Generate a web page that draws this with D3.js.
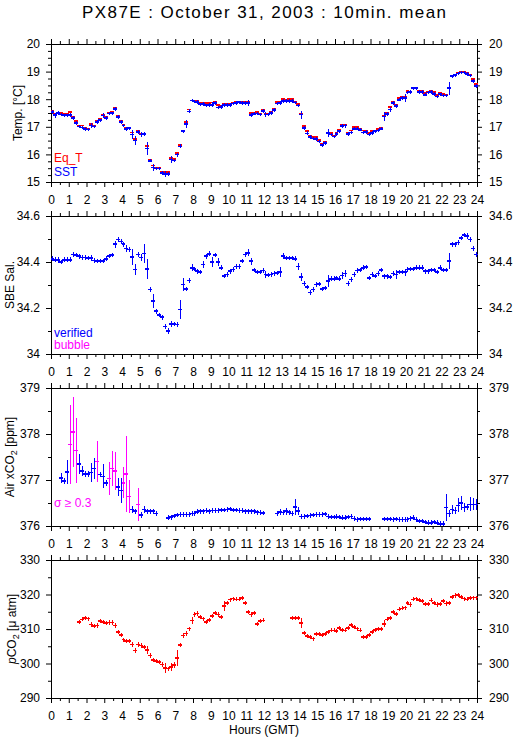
<!DOCTYPE html>
<html>
<head>
<meta charset="utf-8">
<script src="https://cdn.jsdelivr.net/npm/d3@7"></script>
<style>
body { margin: 0; background: #fff; }
svg { display: block; font-family: "Liberation Sans", Arial, sans-serif; }
</style>
</head>
<body>
<svg width="515" height="739"></svg>
<script>
// 10-minute means, slot i covers i/6 .. (i+1)/6 hours GMT (144 slots)
var hourLabels = [0,1,2,3,4,5,6,7,8,9,10,11,12,13,14,15,16,17,18,19,20,21,22,23,24];

var tempTicks = [15, 16, 17, 18, 19, 20];
var salTicks = [34, 34.2, 34.4, 34.6];
var airTicks = [376, 377, 378, 379];
var pco2Ticks = [290, 300, 310, 320, 330];

// Eq_T (red)
var eqT = [
  17.58, 17.48, 17.52, 17.49, 17.48, 17.47, 17.54, 17.38, 17.20, 17.05, 17.05, 16.95,
  16.93, 17.11, 17.05, 17.20, 17.28, 17.44, 17.36, 17.52, 17.54, 17.68, 17.39, 17.22,
  17.08, 16.98, 16.98, 16.80, 16.56, 16.84, 16.76, 16.76, 16.30, 15.81, 15.60, 15.52,
  15.52, 15.36, 15.36, 15.36, 15.87, 15.83, 16.05, 16.35, 16.86, 17.17, 17.62, 17.96,
  17.96, 17.95, 17.86, 17.88, 17.86, 17.86, 17.88, 17.92, 17.78, 17.76, 17.82, 17.82,
  17.82, 17.88, 17.92, 17.92, 17.92, 17.90, 17.92, 17.50, 17.52, 17.54, 17.48, 17.62,
  17.48, 17.48, 17.54, 17.66, 17.89, 17.92, 18.00, 17.98, 18.00, 18.00, 17.92, 17.83,
  17.48, 17.02, 16.84, 16.69, 16.62, 16.62, 16.53, 16.38, 16.45, 16.80, 16.77, 16.69,
  16.78, 16.90, 17.08, 17.08, 16.78, 16.86, 16.99, 16.99, 16.93, 16.86, 16.86, 16.78,
  16.84, 16.87, 16.93, 16.98, 17.40, 17.50, 17.72, 17.92, 17.80, 18.04, 18.08, 18.10,
  18.30, 18.28, 18.43, 18.43, 18.31, 18.30, 18.22, 18.28, 18.30, 18.26, 18.16, 18.22,
  18.19, 18.17, 18.43, 18.85, 18.89, 18.97, 19.01, 19.01, 18.94, 18.89, 18.73, 18.55
];

// SST (blue)
var sst = [
  17.54, 17.42, 17.49, 17.44, 17.42, 17.42, 17.42, 17.32, 17.14, 17.01, 16.98, 16.92,
  16.90, 17.05, 17.01, 17.17, 17.24, 17.41, 17.32, 17.48, 17.49, 17.64, 17.35, 17.17,
  17.05, 16.92, 16.95, 16.72, 16.50, 16.81, 16.72, 16.73, 16.22, 15.77, 15.53, 15.49,
  15.49, 15.32, 15.29, 15.30, 15.81, 15.78, 15.99, 16.29, 16.84, 17.10, 17.56, 17.95,
  17.92, 17.90, 17.82, 17.83, 17.78, 17.80, 17.80, 17.86, 17.70, 17.72, 17.79, 17.79,
  17.79, 17.84, 17.86, 17.89, 17.86, 17.86, 17.86, 17.42, 17.47, 17.48, 17.44, 17.57,
  17.44, 17.44, 17.50, 17.61, 17.85, 17.86, 17.94, 17.94, 17.94, 17.94, 17.88, 17.77,
  17.44, 16.96, 16.76, 16.63, 16.57, 16.56, 16.47, 16.33, 16.41, 16.77, 16.72, 16.65,
  16.74, 16.84, 17.02, 17.04, 16.74, 16.80, 16.93, 16.93, 16.89, 16.80, 16.81, 16.72,
  16.78, 16.84, 16.87, 16.93, 17.37, 17.46, 17.62, 17.86, 17.76, 17.98, 18.04, 18.04,
  18.25, 18.26, 18.40, 18.40, 18.26, 18.26, 18.16, 18.24, 18.26, 18.19, 18.10, 18.18,
  18.14, 18.14, 18.40, 18.83, 18.87, 18.93, 18.97, 18.97, 18.91, 18.86, 18.67, 18.47
];

var sstSd = [
  0.07, 0.09, 0.07, 0.06, 0.06, 0.06, 0.07, 0.07, 0.06, 0.06, 0.06, 0.06,
  0.06, 0.09, 0.07, 0.06, 0.06, 0.09, 0.06, 0.06, 0.06, 0.06, 0.07, 0.07,
  0.06, 0.07, 0.06, 0.17, 0.16, 0.06, 0.10, 0.07, 0.24, 0.06, 0.13, 0.06,
  0.06, 0.07, 0.12, 0.07, 0.12, 0.06, 0.07, 0.07, 0.06, 0.13, 0.07, 0.06,
  0.06, 0.06, 0.06, 0.06, 0.06, 0.07, 0.10, 0.06, 0.06, 0.06, 0.06, 0.06,
  0.06, 0.06, 0.06, 0.06, 0.06, 0.06, 0.12, 0.07, 0.06, 0.06, 0.06, 0.07,
  0.10, 0.06, 0.06, 0.07, 0.06, 0.06, 0.06, 0.06, 0.06, 0.06, 0.06, 0.06,
  0.15, 0.07, 0.07, 0.06, 0.06, 0.06, 0.06, 0.06, 0.07, 0.15, 0.06, 0.07,
  0.06, 0.06, 0.07, 0.07, 0.06, 0.06, 0.06, 0.06, 0.06, 0.06, 0.06, 0.06,
  0.06, 0.06, 0.06, 0.06, 0.15, 0.06, 0.10, 0.06, 0.07, 0.06, 0.06, 0.15,
  0.06, 0.06, 0.06, 0.06, 0.06, 0.06, 0.06, 0.06, 0.06, 0.06, 0.06, 0.06,
  0.06, 0.06, 0.23, 0.06, 0.06, 0.06, 0.06, 0.06, 0.06, 0.06, 0.07, 0.08
];

// SBE salinity (verified)
var sal = [
  34.414, 34.410, 34.410, 34.400, 34.410, 34.410, 34.410, 34.433, 34.430, 34.425, 34.420, 34.420,
  34.418, 34.418, 34.407, 34.404, 34.404, 34.404, 34.414, 34.426, 34.430, 34.477, 34.498, 34.490,
  34.477, 34.458, 34.455, 34.423, 34.367, 34.433, 34.420, 34.437, 34.370, 34.280, 34.230, 34.186,
  34.170, 34.160, 34.120, 34.100, 34.130, 34.130, 34.128, 34.193, 34.302, 34.283, 34.320, 34.375,
  34.370, 34.360, 34.356, 34.390, 34.425, 34.436, 34.400, 34.430, 34.400, 34.375, 34.340, 34.345,
  34.360, 34.367, 34.380, 34.380, 34.404, 34.433, 34.440, 34.404, 34.365, 34.356, 34.356, 34.363,
  34.345, 34.343, 34.345, 34.350, 34.353, 34.356, 34.426, 34.418, 34.418, 34.418, 34.414, 34.380,
  34.335, 34.306, 34.292, 34.268, 34.280, 34.302, 34.305, 34.283, 34.287, 34.317, 34.327, 34.327,
  34.330, 34.327, 34.341, 34.350, 34.306, 34.324, 34.345, 34.363, 34.365, 34.375, 34.378, 34.331,
  34.345, 34.340, 34.350, 34.365, 34.338, 34.338, 34.335, 34.350, 34.345, 34.356, 34.356, 34.356,
  34.367, 34.370, 34.370, 34.375, 34.375, 34.375, 34.360, 34.360, 34.365, 34.365, 34.357, 34.375,
  34.365, 34.365, 34.404, 34.477, 34.477, 34.484, 34.505, 34.517, 34.513, 34.498, 34.458, 34.433
];

var salSd = [
  0.010, 0.010, 0.013, 0.010, 0.010, 0.010, 0.010, 0.010, 0.010, 0.010, 0.010, 0.010,
  0.010, 0.013, 0.010, 0.010, 0.010, 0.010, 0.010, 0.010, 0.010, 0.015, 0.010, 0.010,
  0.010, 0.015, 0.010, 0.035, 0.025, 0.010, 0.015, 0.040, 0.045, 0.010, 0.030, 0.010,
  0.010, 0.010, 0.012, 0.012, 0.012, 0.010, 0.010, 0.040, 0.030, 0.010, 0.010, 0.015,
  0.010, 0.010, 0.010, 0.015, 0.010, 0.010, 0.020, 0.010, 0.018, 0.010, 0.010, 0.010,
  0.010, 0.010, 0.010, 0.010, 0.010, 0.010, 0.015, 0.015, 0.010, 0.010, 0.010, 0.010,
  0.015, 0.010, 0.010, 0.010, 0.010, 0.022, 0.015, 0.010, 0.010, 0.010, 0.010, 0.015,
  0.018, 0.010, 0.010, 0.010, 0.010, 0.010, 0.010, 0.010, 0.010, 0.025, 0.010, 0.010,
  0.010, 0.010, 0.017, 0.015, 0.010, 0.010, 0.010, 0.010, 0.010, 0.010, 0.010, 0.010,
  0.010, 0.010, 0.010, 0.010, 0.010, 0.010, 0.010, 0.010, 0.020, 0.010, 0.010, 0.015,
  0.010, 0.010, 0.010, 0.010, 0.010, 0.010, 0.010, 0.010, 0.010, 0.010, 0.010, 0.010,
  0.010, 0.010, 0.035, 0.010, 0.010, 0.010, 0.010, 0.010, 0.012, 0.012, 0.010, 0.010
];

// Air xCO2 [ppm]
var airCO2 = [
  null, null, null, 377.05, 376.98, 377.18, 377.77, 378.05, 377.64, 377.35, 377.20, 377.13,
  377.13, 377.16, 377.25, 377.40, 377.12, 377.08, 376.94, 377.03, 377.25, 377.20, 376.85, 376.77,
  376.94, 377.13, 376.64, 376.36, 376.32, 376.47, 376.24, 376.36, 376.32, 376.32, 376.32, 376.27,
  null, null, null, 376.18, 376.19, 376.22, 376.24, 376.25, 376.25, 376.25, 376.25, 376.27,
  376.27, 376.31, 376.32, 376.32, 376.34, 376.32, 376.34, 376.34, 376.34, 376.35, 376.35, 376.36,
  376.37, 376.35, 376.35, 376.34, 376.34, 376.32, 376.32, 376.32, 376.32, 376.30, 376.29, 376.28,
  null, null, null, null, 376.27, 376.31, 376.29, 376.32, 376.30, 376.27, 376.41, 376.32,
  376.21, 376.21, 376.22, 376.23, 376.24, 376.25, 376.25, 376.25, 376.26, 376.21, 376.20, 376.20,
  376.21, 376.20, 376.18, 376.18, 376.20, 376.21, 376.16, 376.14, 376.15, 376.15, 376.15, 376.15,
  null, null, null, null, 376.15, 376.15, 376.15, 376.14, 376.15, 376.14, 376.14, 376.14,
  376.14, 376.16, 376.18, 376.14, 376.11, 376.11, 376.09, 376.07, 376.07, 376.09, 376.07, 376.05,
  376.05, 376.40, 376.27, 376.36, 376.34, 376.45, 376.50, 376.40, 376.41, 376.47, 376.47, 376.47
];

var airSd = [
  0, 0, 0, 0.11, 0.07, 0.26, 0.85, 0.76, 0.71, 0.22, 0.11, 0.07,
  0.07, 0.20, 0.22, 0.44, 0.06, 0.26, 0.06, 0.36, 0.38, 0.41, 0.20, 0.27,
  0.34, 0.82, 0.36, 0.08, 0.05, 0.36, 0.06, 0.08, 0.05, 0.05, 0.05, 0.05,
  0, 0, 0, 0.05, 0.05, 0.05, 0.05, 0.05, 0.05, 0.05, 0.05, 0.05,
  0.05, 0.05, 0.05, 0.05, 0.05, 0.05, 0.05, 0.05, 0.05, 0.05, 0.05, 0.05,
  0.05, 0.05, 0.05, 0.05, 0.05, 0.05, 0.05, 0.05, 0.05, 0.05, 0.05, 0.05,
  0, 0, 0, 0, 0.05, 0.06, 0.06, 0.07, 0.05, 0.05, 0.18, 0.09,
  0.05, 0.05, 0.05, 0.05, 0.05, 0.05, 0.05, 0.05, 0.05, 0.05, 0.05, 0.05,
  0.05, 0.05, 0.05, 0.05, 0.05, 0.05, 0.05, 0.05, 0.05, 0.05, 0.05, 0.05,
  0, 0, 0, 0, 0.05, 0.05, 0.05, 0.05, 0.05, 0.05, 0.05, 0.05,
  0.05, 0.05, 0.05, 0.05, 0.05, 0.05, 0.05, 0.05, 0.05, 0.05, 0.05, 0.05,
  0.05, 0.29, 0.08, 0.10, 0.08, 0.15, 0.16, 0.10, 0.07, 0.15, 0.13, 0.12
];

// pCO2 [uatm]
var pco2 = [
  null, null, null, null, null, null, null, null, null, 312.1, 312.8, 313.2,
  313.0, 311.3, 310.8, 311.0, 312.3, 312.1, 311.7, 311.9, 311.9, 311.0, 309.1, 308.2,
  306.9, 306.6, 306.5, 305.5, 303.8, 305.5, 305.2, 304.8, 304.0, 302.3, 301.1, 300.7,
  300.5, 299.7, 298.7, 298.5, 298.9, 299.5, 301.6, 305.3, 308.1, 308.7, 310.1, 312.5,
  314.2, 314.5, 313.4, 313.0, 312.1, 312.6, 313.7, 314.7, 314.2, 313.4, 316.6, 317.6,
  318.5, 318.8, 318.6, 318.6, 318.9, 317.6, 315.0, 314.2, 314.7, 311.5, 312.3, 312.5,
  null, null, null, null, null, null, null, null, null, 313.2, 313.2, 313.2,
  311.8, 308.9, 307.9, 307.6, 307.2, 308.6, 308.6, 308.2, 308.6, 309.2, 309.6, 309.6,
  309.4, 310.3, 309.7, 309.6, 310.3, 311.1, 310.6, 310.1, 309.6, 307.7, 307.6, 308.2,
  309.2, 309.7, 310.0, 310.0, 311.5, 312.8, 313.2, 314.9, 314.4, 315.7, 316.0, 316.2,
  317.6, 317.1, 318.6, 318.8, 318.4, 318.1, 317.3, 317.3, 318.3, 317.6, 317.1, 317.3,
  318.1, 317.4, 317.5, 319.2, 319.7, 319.9, 319.3, 318.8, 318.6, 318.9, 319.1, 319.1
];

var pco2Sd = [
  0, 0, 0, 0, 0, 0, 0, 0, 0, 0.6, 0.6, 0.6,
  0.6, 0.8, 0.6, 0.6, 0.6, 0.6, 0.6, 0.6, 0.6, 0.6, 0.6, 0.6,
  0.6, 0.6, 0.6, 0.6, 0.7, 0.6, 0.6, 0.6, 1.2, 0.6, 0.6, 0.6,
  0.6, 0.6, 1.5, 0.6, 1.2, 0.9, 2.3, 0.6, 0.8, 0.6, 0.6, 1.0,
  0.6, 0.6, 0.6, 0.6, 0.6, 0.6, 0.6, 0.6, 0.6, 0.6, 1.4, 0.6,
  0.6, 0.6, 0.6, 0.6, 0.6, 0.6, 0.6, 0.6, 0.6, 0.6, 0.6, 0.6,
  0, 0, 0, 0, 0, 0, 0, 0, 0, 0.6, 0.6, 0.6,
  1.5, 0.6, 0.6, 0.6, 0.6, 0.6, 0.6, 0.6, 0.6, 0.6, 0.6, 0.6,
  0.6, 0.6, 0.6, 0.6, 0.6, 0.6, 0.6, 0.6, 0.6, 0.6, 0.6, 0.6,
  0.6, 0.6, 0.6, 0.6, 1.0, 0.6, 0.6, 0.6, 0.6, 0.6, 0.6, 0.6,
  0.6, 0.6, 0.6, 0.6, 0.6, 0.6, 0.6, 0.6, 0.6, 0.6, 0.6, 0.6,
  0.6, 0.6, 0.6, 0.6, 0.6, 0.6, 0.6, 0.6, 0.6, 0.6, 0.6, 0.6
];

var RED = "#ff0000", BLUE = "#0000ff", MAGENTA = "#ff00ff";
var FONT = 12;

var svg = d3.select("svg");

var x = d3.scaleLinear().domain([0, 24]).range([51, 477]);
var panelH = 138;
var halfTicks = d3.range(0.5, 24, 1);
var plain = function (d) { return String(d); };

function slotX(i) { return x(i / 6); }

// one panel: frame + ticks on all four sides, labels bottom/left/right
function drawPanel(top, domain, majors, minors) {
    var y = d3.scaleLinear().domain(domain).range([top + panelH, top]);
    var g = svg.append("g");

    function axis(a, tr) {
        var ax = g.append("g").attr("transform", tr).call(a);
        ax.select(".domain").remove();
        ax.attr("font-family", null).attr("font-size", FONT);
        return ax;
    }

    axis(d3.axisBottom(x).tickValues(hourLabels).tickSize(5).tickPadding(8).tickFormat(plain),
        "translate(0," + (top + panelH) + ")");
    axis(d3.axisBottom(x).tickValues(halfTicks).tickSize(3).tickFormat(""),
        "translate(0," + (top + panelH) + ")");
    axis(d3.axisTop(x).tickValues(hourLabels).tickSize(5).tickFormat(""), "translate(0," + top + ")");
    axis(d3.axisTop(x).tickValues(halfTicks).tickSize(3).tickFormat(""), "translate(0," + top + ")");

    axis(d3.axisLeft(y).tickValues(majors).tickSize(5).tickPadding(6).tickFormat(plain), "translate(" + x(0) + ",0)");
    axis(d3.axisLeft(y).tickValues(minors).tickSize(3).tickFormat(""), "translate(" + x(0) + ",0)");
    axis(d3.axisRight(y).tickValues(majors).tickSize(5).tickPadding(7).tickFormat(plain), "translate(" + x(24) + ",0)");
    axis(d3.axisRight(y).tickValues(minors).tickSize(3).tickFormat(""), "translate(" + x(24) + ",0)");

    g.append("rect")
        .attr("x", x(0) + 0.5).attr("y", top + 0.5)
        .attr("width", x(24) - x(0)).attr("height", panelH)
        .attr("fill", "none").attr("stroke", "#000").attr("stroke-width", 1);
    return y;
}

// 10-min mean marks: horizontal bar over the slot, vertical bar = +-sd
function drawMarks(y, vals, sds, color, withBar) {
    var pts = [];
    vals.forEach(function (v, i) {
        if (v !== null) pts.push({ i: i, v: v, s: sds ? sds[i] : 0 });
    });
    var col = function (d) { return typeof color === "function" ? color(d) : color; };
    var g = svg.append("g").attr("fill", "none").attr("shape-rendering", "crispEdges");
    g.selectAll("path.h").data(pts).enter().append("path")
        .attr("class", "h")
        .attr("d", function (d) {
            return "M" + (slotX(d.i) - 0.5) + "," + y(d.v) + "H" + (slotX(d.i + 1) + 0.5);
        })
        .attr("stroke", col)
        .attr("stroke-width", 1.6);
    if (!withBar) return;
    g.selectAll("path.v").data(pts).enter().append("path")
        .attr("class", "v")
        .attr("d", function (d) {
            var xc = Math.round((slotX(d.i) + slotX(d.i + 1)) / 2) + 0.5;
            return "M" + xc + "," + y(d.v - d.s) + "V" + y(d.v + d.s);
        })
        .attr("stroke", col)
        .attr("stroke-width", 1.2);
}

function yTitle(cx, cy, build) {
    var t = svg.append("text")
        .attr("transform", "translate(" + cx + "," + cy + ") rotate(-90)")
        .attr("text-anchor", "middle")
        .attr("font-size", FONT);
    build(t);
}

function legend(px, py, txt, color) {
    svg.append("text").attr("x", px).attr("y", py)
        .attr("font-size", FONT).attr("fill", color).text(txt);
}

// title
svg.append("text")
    .attr("x", 264).attr("y", 17.5)
    .attr("text-anchor", "middle")
    .attr("font-size", 17)
    .attr("textLength", 364).attr("lengthAdjust", "spacing")
    .text("PX87E : October 31, 2003 : 10min. mean");

// panel 1 - temperature
var yT = drawPanel(44, [15, 20], tempTicks, d3.range(15, 20.01, 0.25).filter(function (v) { return v % 1 !== 0; }));
drawMarks(yT, eqT, null, RED, false);
drawMarks(yT, sst, sstSd, BLUE, true);
yTitle(21.5, 113, function (t) { t.text("Temp. [°C]"); });
legend(54, 162, "Eq_T", RED);
legend(54, 176, "SST", BLUE);

// panel 2 - salinity
var yS = drawPanel(216, [34, 34.6], salTicks, [34.1, 34.3, 34.5]);
drawMarks(yS, sal, salSd, BLUE, true);
yTitle(13.5, 285, function (t) { t.text("SBE Sal."); });
legend(54, 336.5, "verified", BLUE);
legend(54, 349, "bubble", MAGENTA);

// panel 3 - air xCO2
var yA = drawPanel(388, [376, 379], airTicks, [376.5, 377.5, 378.5]);
drawMarks(yA, airCO2, airSd, function (d) { return d.s >= 0.3 ? MAGENTA : BLUE; }, true);
yTitle(14, 457, function (t) {
    t.append("tspan").text("Air xCO");
    t.append("tspan").attr("font-size", 9).attr("dy", 3).text("2");
    t.append("tspan").attr("dy", -3).text(" [ppm]");
});
legend(54, 507, "σ ≥ 0.3", MAGENTA);

// panel 4 - pCO2
var yP = drawPanel(560, [290, 330], pco2Ticks, [295, 305, 315, 325]);
drawMarks(yP, pco2, pco2Sd, RED, true);
yTitle(16, 629, function (t) {
    t.append("tspan").attr("font-style", "italic").text("p");
    t.append("tspan").text("CO");
    t.append("tspan").attr("font-size", 9).attr("dy", 3).text("2");
    t.append("tspan").attr("dy", -3).text(" [μ atm]");
});

svg.append("text")
    .attr("x", 264).attr("y", 734)
    .attr("text-anchor", "middle")
    .attr("font-size", FONT)
    .text("Hours (GMT)");
</script>
</body>
</html>
